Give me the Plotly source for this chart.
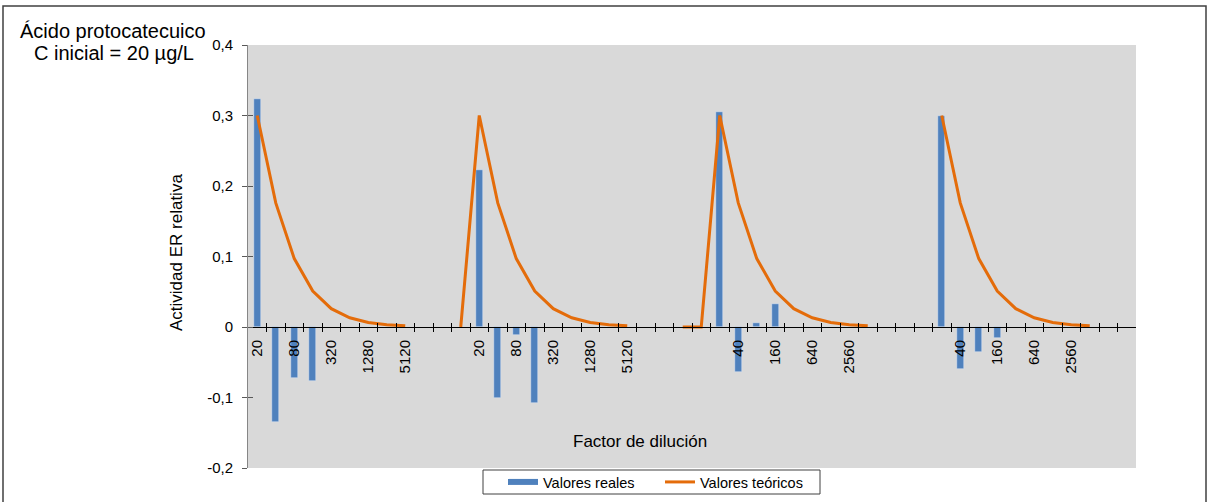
import plotly.graph_objects as go

# ---------------- data ----------------
dilutions = ["20", "40", "80", "160", "320", "640", "1280", "2560", "5120"]
categories = (dilutions + ["", "", ""] + dilutions + ["", "", "", ""]
              + dilutions + ["", "", ""] + dilutions + ["", ""])

valores_reales = (
    [0.323, -0.135, -0.072, -0.076, None, None, None, None, None] + [None] * 3
    + [0.222, -0.101, -0.012, -0.108, None, None, None, None, None] + [None] * 4
    + [0.305, -0.064, 0.006, 0.032, None, None, None, None, None] + [None] * 3
    + [0.299, -0.059, -0.035, -0.016, None, None, None, None, None] + [None] * 2
)

curva_teorica = [0.300, 0.176, 0.097, 0.051, 0.026, 0.013, 0.0065, 0.0033, 0.0016]
valores_teoricos = (
    curva_teorica + [None, None, 0.0]
    + curva_teorica + [None, None, 0.0, 0.0]
    + curva_teorica + [None, None, None]
    + curva_teorica + [None, None]
)

y_ticks = [-0.2, -0.1, 0.0, 0.1, 0.2, 0.3, 0.4]
y_ticktext = ["-0,2", "-0,1", "0", "0,1", "0,2", "0,3", "0,4"]

# ---------------- layout helpers ----------------
W, H = 1211, 502
ML, MR, MT, MB = 248, 75, 45, 34
PW, PH = W - ML - MR, H - MT - MB


def px_x(px):
    return (px - ML) / PW


def px_y(py):
    return (H - MB - py) / PH


FONT = "Liberation Sans, Arial, sans-serif"
BLUE = "#4f81bd"
ORANGE = "#e46c0a"

n = len(categories)
xs = list(range(n))
xrange_ = [-0.5, n - 0.5]
yrange_ = [y_ticks[0], y_ticks[-1]]
zero_pos = (0 - yrange_[0]) / (yrange_[1] - yrange_[0])
label_vals = [i for i in range(0, n, 2) if categories[i]]
label_text = [categories[i] for i in label_vals]
boundaries = [i + 0.5 for i in range(n - 1)]

fig = go.Figure()
fig.add_trace(go.Bar(x=xs, y=valores_reales, width=0.36, marker_color=BLUE,
                     name="Valores reales", showlegend=False))
fig.add_trace(go.Scatter(x=xs, y=valores_teoricos, mode="lines",
                         line=dict(color=ORANGE, width=3), name="Valores teóricos",
                         showlegend=False, connectgaps=False))
# legend entries
fig.add_trace(go.Scatter(x=[None], y=[None], mode="lines",
                         line=dict(color=BLUE, width=6), name="Valores reales"))
fig.add_trace(go.Scatter(x=[None], y=[None], mode="lines",
                         line=dict(color=ORANGE, width=3), name="Valores teóricos"))
# helper traces for tick-mark axes
fig.add_trace(go.Scatter(x=[None], y=[None], xaxis="x2", yaxis="y", showlegend=False, hoverinfo="skip"))
fig.add_trace(go.Scatter(x=[None], y=[None], xaxis="x3", yaxis="y", showlegend=False, hoverinfo="skip"))
fig.add_trace(go.Scatter(x=[None], y=[None], xaxis="x", yaxis="y2", showlegend=False, hoverinfo="skip"))

tickfont = dict(family=FONT, size=15, color="#000000")

fig.update_layout(
    width=W, height=H,
    margin=dict(l=ML, r=MR, t=MT, b=MB, pad=0, autoexpand=False),
    paper_bgcolor="white",
    plot_bgcolor="#d9d9d9",
    font=dict(family=FONT, color="#000000"),
    bargap=0,
    xaxis=dict(range=xrange_, anchor="free", position=zero_pos,
               tickmode="array", tickvals=label_vals, ticktext=label_text,
               tickangle=-90, ticks="", tickfont=tickfont, ticklabelstandoff=6,
               showline=True, linecolor="#000000", linewidth=1,
               showgrid=False, zeroline=False),
    xaxis2=dict(range=xrange_, overlaying="x", anchor="free", position=zero_pos,
                tickmode="array", tickvals=boundaries, ticks="outside", ticklen=4,
                tickcolor="#000000", showticklabels=False, showline=False,
                showgrid=False, zeroline=False),
    xaxis3=dict(range=xrange_, overlaying="x", anchor="free", position=zero_pos,
                tickmode="array", tickvals=boundaries, ticks="inside", ticklen=4,
                tickcolor="#000000", showticklabels=False, showline=False,
                showgrid=False, zeroline=False),
    yaxis=dict(range=yrange_, tickmode="array", tickvals=y_ticks, ticktext=y_ticktext,
               ticks="outside", ticklen=5, tickcolor="#595959", tickfont=tickfont,
               showline=True, linecolor="#868686", linewidth=1,
               showgrid=False, zeroline=False, ticklabelstandoff=6),
    yaxis2=dict(range=yrange_, overlaying="y", anchor="x", side="left",
                tickmode="array", tickvals=y_ticks, ticks="inside", ticklen=5,
                tickcolor="#595959", showticklabels=False, showline=False,
                showgrid=False, zeroline=False),
    legend=dict(orientation="h", x=px_x(503), xanchor="left",
                y=px_y(482), yanchor="middle", bgcolor="rgba(0,0,0,0)",
                font=dict(family=FONT, size=14.5, color="#000000"),
                entrywidth=112, itemwidth=30),
    shapes=[
        dict(type="rect", xref="paper", yref="paper",
             x0=px_x(3), x1=px_x(1206), y0=px_y(506), y1=px_y(6),
             line=dict(color="#404040", width=1.5), fillcolor="rgba(0,0,0,0)", layer="below"),
        dict(type="rect", xref="paper", yref="paper",
             x0=px_x(483), x1=px_x(820), y0=px_y(494), y1=px_y(470),
             line=dict(color="#404040", width=1), fillcolor="white", layer="below"),
    ],
    annotations=[
        dict(text="Ácido protocatecuico", xref="paper", yref="paper",
             x=px_x(113), y=px_y(31), xanchor="center", yanchor="middle",
             showarrow=False, font=dict(family=FONT, size=20, color="#000000")),
        dict(text="C inicial = 20 µg/L", xref="paper", yref="paper",
             x=px_x(114), y=px_y(53), xanchor="center", yanchor="middle",
             showarrow=False, font=dict(family=FONT, size=20, color="#000000")),
        dict(text="Actividad ER relativa", xref="paper", yref="paper",
             x=px_x(176), y=px_y(253), xanchor="center", yanchor="middle",
             textangle=-90, showarrow=False, font=dict(family=FONT, size=17, color="#000000")),
        dict(text="Factor de dilución", xref="paper", yref="paper",
             x=px_x(640), y=px_y(441), xanchor="center", yanchor="middle",
             showarrow=False, font=dict(family=FONT, size=17, color="#000000")),
    ],
)

fig.write_html("out.html")
